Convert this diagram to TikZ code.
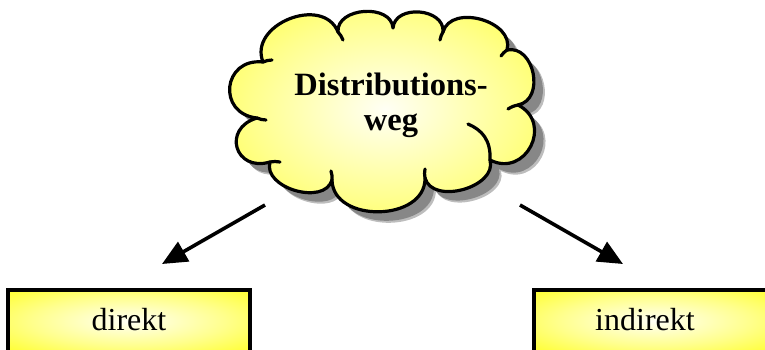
\documentclass[tikz,border=0pt]{standalone}
\usepackage{fontspec}
\setmainfont{Liberation Serif}
\usetikzlibrary{arrows.meta,calc}
\pgfdeclareradialshading{glow}{\pgfpoint{0bp}{0bp}}{color(0bp)=(yellow!4);color(20bp)=(yellow!45);color(40bp)=(yellow!92);color(50bp)=(yellow)}
\definecolor{shadowgray}{RGB}{135,135,135}
\tikzset{
  boxshape/.style={draw=black, line width=3.4pt, shading=glow, minimum width=242pt,
     minimum height=62pt, inner sep=0pt},
  lbl/.style={font=\fontsize{32}{36}\selectfont},
  conn/.style={line width=3.6pt, -{Triangle[length=25pt,width=22pt]}},
  cloudline/.style={draw=black, line width=3.2pt, line cap=round}
}
\newcommand{\cloudpath}{%
  (C1) .. controls ($(C1)!0.5!90:(C2)$) and ($(C2)!0.5!-90:(C1)$) .. (C2)
  .. controls ($(C2)!0.45!90:(C3)$) and ($(C3)!0.45!-90:(C2)$) .. (C3)
  .. controls ($(C3)!0.48!90:(C4)$) and ($(C4)!0.48!-90:(C3)$) .. (C4)
  .. controls ($(C4)!0.45!90:(C5)$) and ($(C5)!0.45!-90:(C4)$) .. (C5)
  .. controls ($(C5)!0.5!90:(C6)$) and ($(C6)!0.5!-90:(C5)$) .. (C6)
  .. controls ($(C6)!0.65!90:(C7)$) and ($(C7)!0.65!-90:(C6)$) .. (C7)
  .. controls ($(C7)!0.42!90:(C8)$) and ($(C8)!0.42!-90:(C7)$) .. (C8)
  .. controls ($(C8)!0.47!90:(C9)$) and ($(C9)!0.47!-90:(C8)$) .. (C9)
  .. controls ($(C9)!0.42!90:(C10)$) and ($(C10)!0.42!-90:(C9)$) .. (C10)
  .. controls ($(C10)!0.8!90:(C11)$) and ($(C11)!0.8!-90:(C10)$) .. (C11)
  .. controls ($(C11)!0.72!90:(C1)$) and ($(C1)!0.72!-90:(C11)$) .. (C1) -- cycle}
\begin{document}
\begin{tikzpicture}[x=1pt,y=-1pt]
\useasboundingbox (0,0) rectangle (765,349);
\begin{scope}
\clip (0,0) rectangle (765,349);
% cloud corner points
\coordinate (C1) at (263,62);
\coordinate (C2) at (338,32);
\coordinate (C3) at (393,28);
\coordinate (C4) at (443,32);
\coordinate (C5) at (507,50);
\coordinate (C6) at (518,105);
\coordinate (C7) at (490,160);
\coordinate (C8) at (425,178);
\coordinate (C9) at (332,180);
\coordinate (C10) at (270,162);
\coordinate (C11) at (257,118);
% shadow
\begin{scope}[transform canvas={xshift=11pt,yshift=-11pt}]
\fill[shadowgray!55] \cloudpath;
\end{scope}
\begin{scope}[transform canvas={xshift=9pt,yshift=-9pt}]
\fill[shadowgray] \cloudpath;
\end{scope}
% cloud
\path[shading=glow] \cloudpath;
\draw[cloudline, line join=round] \cloudpath;
% inner strokes
\draw[cloudline] (C1) to[bend left=10] +(9,-2);
\draw[cloudline] (C2) to[bend left=10] +(5,8);
\draw[cloudline] (C4) to[bend right=10] +(-3,8);
\draw[cloudline] (C5) to[bend right=10] +(-6,6);
\draw[cloudline] (C6) to[bend right=10] +(-10,4);
\draw[cloudline] (C7) .. controls (491,140) and (482,130) .. (468,124);
\draw[cloudline] (C8) to[bend left=10] +(0,-9);
\draw[cloudline] (C9) to[bend right=10] +(-1,-9);
\draw[cloudline] (C10) to[bend left=10] +(10,0);
\draw[cloudline] (C11) to[bend right=10] +(9,2);
\node[font=\bfseries\fontsize{32.5}{35}\selectfont, align=center] (cloud) at (391,105) {Distributions-\\weg};
% boxes
\node[boxshape] (direkt) at (129,321) {};
\node[lbl] (direktt) at (129,320) {direkt};
\node[boxshape, minimum width=240pt] (indirekt) at (654,321) {};
\node[lbl] (indirektt) at (645,320) {indirekt};
% arrows
\coordinate (a1) at (265,205);
\coordinate (a2) at (162,264);
\coordinate (b1) at (520,205);
\coordinate (b2) at (623,264);
\draw[conn] (a1) -- (a2);
\draw[conn] (b1) -- (b2);
\end{scope}
\end{tikzpicture}
\end{document}
